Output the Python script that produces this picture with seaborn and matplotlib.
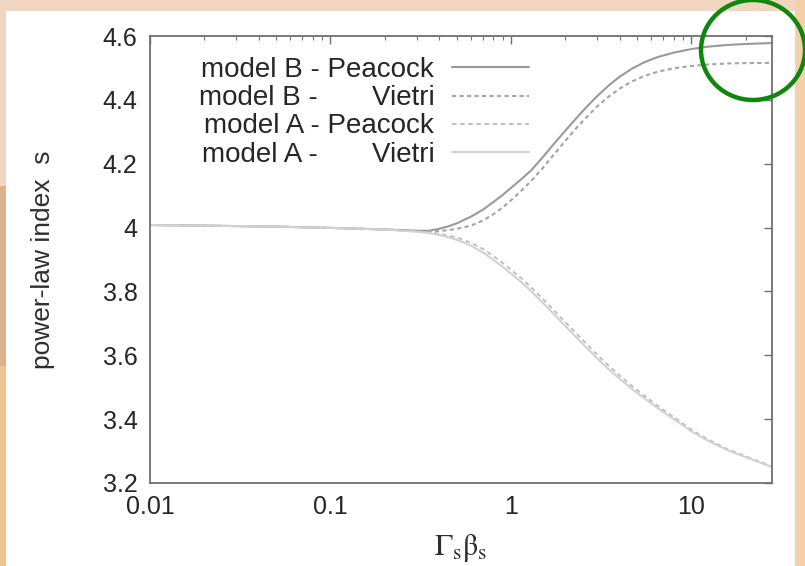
import matplotlib
matplotlib.use("Agg")
import matplotlib.pyplot as plt
from matplotlib.patches import Rectangle, Ellipse
from matplotlib.ticker import FixedLocator, FixedFormatter, LogLocator, NullFormatter
import seaborn as sns

# ---- data ----
x_vals = [0.01, 0.02, 0.05, 0.1, 0.2, 0.3, 0.35, 0.4, 0.45, 0.5, 0.6, 0.7, 0.8,
          0.9, 1.0, 1.15, 1.3, 1.5, 1.75, 2.0, 2.3, 2.6, 3.0, 3.5, 4.0, 4.7, 5.5,
          6.5, 8, 10, 12.5, 16, 20, 28]
b_peacock = [4.008, 4.006, 4.003, 3.999, 3.994, 3.990, 3.990, 3.996, 4.004, 4.013,
             4.034, 4.056, 4.080, 4.102, 4.124, 4.153, 4.180, 4.220, 4.265, 4.303,
             4.342, 4.375, 4.411, 4.446, 4.472, 4.498, 4.518, 4.534, 4.548, 4.559,
             4.567, 4.572, 4.575, 4.578]
b_vietri = [4.008, 4.006, 4.003, 3.999, 3.994, 3.989, 3.988, 3.989, 3.992, 3.996,
            4.006, 4.022, 4.042, 4.063, 4.085, 4.117, 4.147, 4.186, 4.232, 4.271,
            4.311, 4.343, 4.379, 4.411, 4.435, 4.458, 4.475, 4.488, 4.499, 4.506,
            4.511, 4.514, 4.515, 4.516]
a_peacock = [4.008, 4.006, 4.003, 3.999, 3.994, 3.988, 3.985, 3.981, 3.975, 3.969,
             3.953, 3.933, 3.911, 3.889, 3.868, 3.840, 3.812, 3.777, 3.738, 3.704,
             3.669, 3.638, 3.602, 3.566, 3.537, 3.503, 3.473, 3.442, 3.406, 3.367,
             3.335, 3.305, 3.284, 3.252]
a_vietri = [4.008, 4.006, 4.003, 3.999, 3.994, 3.987, 3.983, 3.977, 3.970, 3.962,
            3.944, 3.922, 3.899, 3.877, 3.856, 3.828, 3.800, 3.765, 3.726, 3.692,
            3.657, 3.626, 3.591, 3.555, 3.527, 3.494, 3.465, 3.435, 3.400, 3.362,
            3.331, 3.302, 3.281, 3.250]

labels = ["model B - Peacock", "model B -       Vietri",
          "model A - Peacock", "model A -       Vietri"]
y_ticks = [3.2, 3.4, 3.6, 3.8, 4.0, 4.2, 4.4, 4.6]
y_ticklabels = ["3.2", "3.4", "3.6", "3.8", "4", "4.2", "4.4", "4.6"]
x_ticks = [0.01, 0.1, 1, 10]
x_ticklabels = ["0.01", "0.1", "1", "10"]

sns.set_style("white")
plt.rcParams["font.family"] = ["Liberation Sans", "DejaVu Sans"]
plt.rcParams["mathtext.fontset"] = "stix"

W, H = 805, 566
fig = plt.figure(figsize=(W / 100, H / 100), dpi=100)
fig.patch.set_facecolor("#f0d6c0")

# white panel + decorative side strips (behind everything)
bg = [
    ((0, 0), 6 / W, 380 / H, "#f3c391"),
    ((0, 200 / H), 6 / W, 180 / H, "#dcb28c"),
    ((795 / W, 0), 10 / W, 1, "#f7cfa8"),
    ((6 / W, 0), 789 / W, 555 / H, "white"),
]
for xy, w, h, c in bg:
    fig.patches.append(Rectangle(xy, w, h, transform=fig.transFigure,
                                 facecolor=c, edgecolor="none", zorder=-10))

ax = fig.add_axes([150 / W, 1 - 483 / H, 622 / W, 447 / H])
ax.set_zorder(1)
ax.set_facecolor("white")

styles = [
    dict(color="#9a9a9a", linestyle="-", lw=1.5),
    dict(color="#a4a4a4", linestyle=(0, (2.0, 1.6)), lw=1.5),
    dict(color="#bcbcbc", linestyle=(0, (2.5, 2.0)), lw=1.3),
    dict(color="#d2d2d2", linestyle="-", lw=1.5),
]
series = [b_peacock, b_vietri, a_peacock, a_vietri]
for vals, lab, st in zip(series, labels, styles):
    sns.lineplot(x=x_vals, y=vals, ax=ax, label=lab, color=st["color"],
                 linestyle=st["linestyle"], linewidth=st["lw"])

ax.set_xscale("log")
ax.set_xlim(0.01, 28)
ax.set_ylim(3.2, 4.6)
ax.yaxis.set_major_locator(FixedLocator(y_ticks))
ax.yaxis.set_major_formatter(FixedFormatter(y_ticklabels))
ax.xaxis.set_major_locator(FixedLocator(x_ticks))
ax.xaxis.set_major_formatter(FixedFormatter(x_ticklabels))
ax.xaxis.set_minor_locator(LogLocator(base=10, subs=range(2, 10)))
ax.xaxis.set_minor_formatter(NullFormatter())

for sp in ax.spines.values():
    sp.set_color("#707070")
    sp.set_linewidth(1.3)

ax.tick_params(axis="both", which="both", direction="in", top=True, right=True,
               color="#707070")
ax.tick_params(axis="both", which="major", length=6, width=1.0, labelsize=18,
               labelcolor="#262626")
ax.tick_params(axis="x", which="major", pad=9)
ax.tick_params(axis="y", which="major", pad=9)
ax.tick_params(axis="x", which="minor", length=3, width=0.8)

ax.set_ylabel("power-law index  s", fontsize=19, color="#2e2e2e", labelpad=34)
ax.set_xlabel(r"$\mathrm{\Gamma_s\beta_s}$", fontsize=22,
              color="#2e2e2e", labelpad=9)

leg = ax.legend(loc="upper left", bbox_to_anchor=(0.078, 0.953), frameon=False,
                markerfirst=False, fontsize=20, handlelength=2.75,
                handletextpad=0.65, labelspacing=0.08, borderpad=0,
                borderaxespad=0)
for t in leg.get_texts():
    t.set_color("#262626")

# green highlight circle
fig.patches.append(Ellipse((753 / W, 1 - 50 / H), 104 / W, 100 / H,
                           transform=fig.transFigure, facecolor="none",
                           edgecolor="#0f870f", linewidth=3.2, zorder=10))

fig.savefig("out.png", dpi=100, facecolor=fig.get_facecolor())
